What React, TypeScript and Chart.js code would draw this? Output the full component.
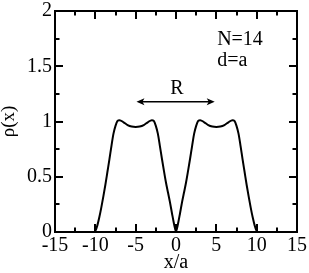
import React, { useEffect, useRef } from "react";
import { Chart, registerables } from "chart.js";

Chart.register(...registerables);

// Sample positions x/a and density rho(x)
const xPositions = [
  -11, -10.5, -10.25, -10, -9.75, -9.5, -9.25, -9, -8.75, -8.5, -8.25, -8, -7.75, -7.5, -7.25, -7,
  -6.5, -6, -5.5, -5, -4.5, -4, -3.5, -3, -2.75, -2.5, -2.25, -2, -1.75, -1.5, -1.25, -1, -0.75,
  -0.5, -0.25, 0, 0.25, 0.5, 0.75, 1, 1.25, 1.5, 1.75, 2, 2.25, 2.5, 2.75, 3, 3.5, 4, 4.5, 5,
  5.5, 6, 6.5, 7, 7.25, 7.5, 7.75, 8, 8.25, 8.5, 8.75, 9, 9.25, 9.5, 9.75, 10, 10.25, 10.5, 11,
];
const rhoValues = [
  0, 0, 0.0, 0.01, 0.06, 0.135, 0.225, 0.325, 0.43, 0.545, 0.66, 0.78, 0.89, 0.96, 1.005, 1.012,
  0.993, 0.968, 0.954, 0.95, 0.954, 0.968, 0.993, 1.012, 1.005, 0.96, 0.89, 0.78, 0.665, 0.555, 0.45, 0.36, 0.27,
  0.17, 0.075, 0.005, 0.075, 0.17, 0.27, 0.36, 0.45, 0.555, 0.665, 0.78, 0.89, 0.96, 1.005, 1.012, 0.993, 0.968, 0.954, 0.95,
  0.954, 0.968, 0.993, 1.012, 1.005, 0.96, 0.89, 0.78, 0.66, 0.545, 0.43, 0.325, 0.225, 0.135, 0.06, 0.01, 0.0, 0, 0,
];

const xMajorTicks = [-15, -10, -5, 0, 5, 10, 15];
const xMinorTicks = [-12.5, -7.5, -2.5, 2.5, 7.5, 12.5];
const yMajorTicks = [0, 0.5, 1, 1.5, 2];
const yMinorTicks = [0.25, 0.75, 1.25, 1.75];

const annotationLines = ["N=14", "d=a"];
const annotationX = 5.1;
const annotationY = [1.695, 1.5];
const arrowFrom = -4.9;
const arrowTo = 4.8;
const arrowY = 1.178;
const arrowLabel = "R";
const arrowLabelX = 0.1;
const arrowLabelY = 1.25;

const FONT = '"Liberation Serif"';

const framePlugin = {
  id: "frameTicks",
  afterDraw(chart: any) {
    const { ctx, chartArea: a } = chart;
    const xs = chart.scales.x;
    const ys = chart.scales.y;
    ctx.save();
    ctx.strokeStyle = "#000";
    ctx.lineWidth = 2;
    ctx.lineCap = "butt";
    const line = (x1: number, y1: number, x2: number, y2: number) => {
      ctx.beginPath();
      ctx.moveTo(x1, y1);
      ctx.lineTo(x2, y2);
      ctx.stroke();
    };
    const major = 8;
    const minor = 4.5;
    xMajorTicks.forEach((v) => {
      const p = Math.round(xs.getPixelForValue(v));
      line(p, a.bottom, p, a.bottom - major);
      line(p, a.top, p, a.top + major);
    });
    xMinorTicks.forEach((v) => {
      const p = Math.round(xs.getPixelForValue(v));
      line(p, a.bottom, p, a.bottom - minor);
      line(p, a.top, p, a.top + minor);
    });
    yMajorTicks.forEach((v) => {
      const p = Math.round(ys.getPixelForValue(v));
      line(a.left, p, a.left + major, p);
      line(a.right, p, a.right - major, p);
    });
    yMinorTicks.forEach((v) => {
      const p = Math.round(ys.getPixelForValue(v));
      line(a.left, p, a.left + minor, p);
      line(a.right, p, a.right - minor, p);
    });
    ctx.strokeRect(a.left, a.top, a.right - a.left, a.bottom - a.top);

    // R arrow
    const x1 = xs.getPixelForValue(arrowFrom);
    const x2 = xs.getPixelForValue(arrowTo);
    const ay = ys.getPixelForValue(arrowY);
    ctx.lineWidth = 1.5;
    line(x1 + 3, ay, x2 - 3, ay);
    ctx.fillStyle = "#000";
    const head = (tip: number, dir: number) => {
      ctx.beginPath();
      ctx.moveTo(tip, ay);
      ctx.lineTo(tip - dir * 8, ay - 3.5);
      ctx.lineTo(tip - dir * 6, ay);
      ctx.lineTo(tip - dir * 8, ay + 3.5);
      ctx.closePath();
      ctx.fill();
    };
    head(x1, -1);
    head(x2, 1);

    ctx.font = `20px ${FONT}`;
    ctx.textBaseline = "alphabetic";
    ctx.textAlign = "center";
    ctx.fillText(arrowLabel, xs.getPixelForValue(arrowLabelX), ys.getPixelForValue(arrowLabelY));
    ctx.textAlign = "left";
    annotationLines.forEach((t, i) => {
      ctx.fillText(t, xs.getPixelForValue(annotationX), ys.getPixelForValue(annotationY[i]));
    });
    ctx.restore();
  },
};

export default function App() {
  const ref = useRef<HTMLCanvasElement>(null);
  useEffect(() => {
    if (!ref.current) return;
    const points = xPositions.map((x, i) => ({ x, y: rhoValues[i] }));
    const chart = new Chart(ref.current, {
      type: "line",
      data: {
        datasets: [
          {
            data: points,
            borderColor: "#000",
            borderWidth: 2,
            pointRadius: 0,
            fill: false,
            cubicInterpolationMode: "monotone",
          },
        ],
      },
      options: {
        animation: false,
        responsive: true,
        maintainAspectRatio: false,
        layout: { padding: { top: 9, right: 11, left: 0, bottom: 0 } },
        plugins: { legend: { display: false }, tooltip: { enabled: false } },
        scales: {
          x: {
            type: "linear",
            min: -15,
            max: 15,
            grid: { display: false, drawTicks: false },
            border: { display: false },
            ticks: {
              stepSize: 5,
              color: "#000",
              padding: 2,
              maxRotation: 0,
              callback: (v: any) => String(v),
              font: { family: FONT, size: 20, lineHeight: 1.2 },
            },
            title: {
              display: true,
              text: "x/a",
              color: "#000",
              padding: { top: 0, bottom: 0 },
              font: { family: FONT, size: 20, lineHeight: 1 },
            },
            afterFit: (s: any) => {
              s.height = 41;
            },
          },
          y: {
            type: "linear",
            min: 0,
            max: 2,
            grid: { display: false, drawTicks: false },
            border: { display: false },
            ticks: {
              stepSize: 0.5,
              color: "#000",
              padding: 3,
              callback: (v: any) => String(v),
              font: { family: FONT, size: 20, lineHeight: 0.8 },
            },
            title: {
              display: true,
              text: "ρ(x)",
              color: "#000",
              padding: { top: 0, bottom: 0 },
              font: { family: FONT, size: 19, lineHeight: 1 },
            },
            afterFit: (s: any) => {
              s.width = 55;
            },
          },
        },
      },
      plugins: [framePlugin],
    });
    let alive = true;
    const redraw = () => {
      if (alive) chart.update();
    };
    try {
      document.fonts
        .load('20px "Liberation Serif"', "N=14 d=a R x/a ρ(x) -0123456789.")
        .then(redraw, redraw);
    } catch (e) {
      /* ignore */
    }
    const timers = [20, 100, 250].map((t) => setTimeout(redraw, t));
    return () => {
      alive = false;
      timers.forEach(clearTimeout);
      chart.destroy();
    };
  }, []);
  return (
    <div style={{ position: "fixed", left: 0, top: 0, width: 309, height: 273, background: "#fff" }}>
      <canvas ref={ref} />
    </div>
  );
}
